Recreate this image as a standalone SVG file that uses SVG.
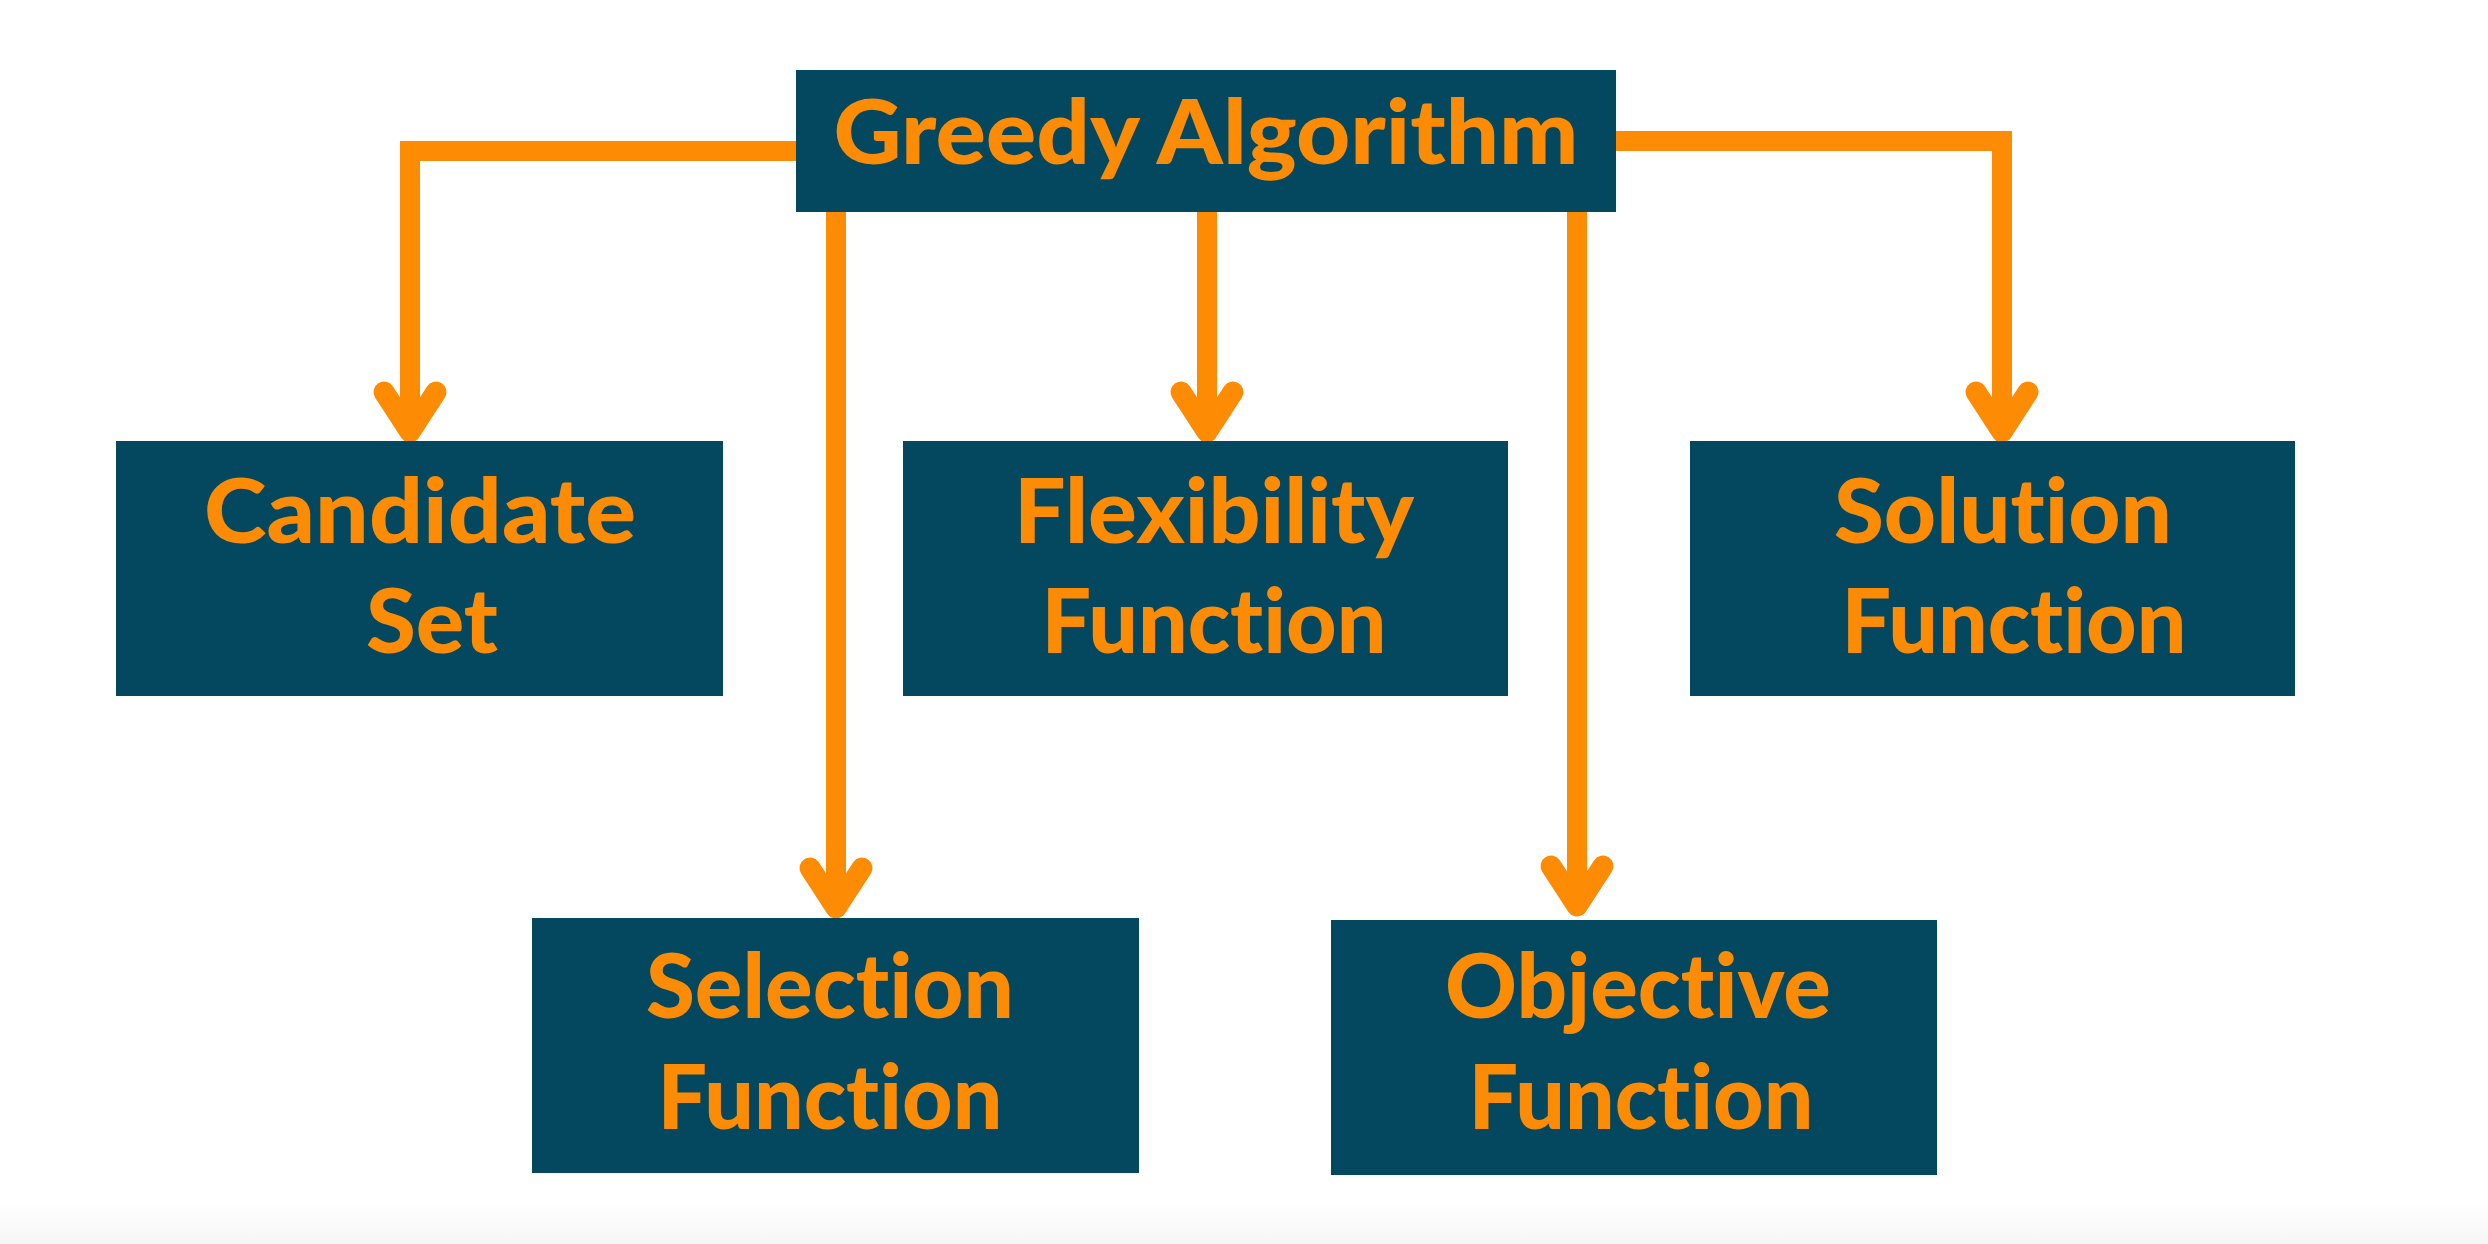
<svg xmlns="http://www.w3.org/2000/svg" width="2488" height="1244" viewBox="0 0 2488 1244">
<defs>
<linearGradient id="fade" x1="0" y1="0" x2="0" y2="1">
<stop offset="0" stop-color="#ffffff"/>
<stop offset="1" stop-color="#f6f6f6"/>
</linearGradient>
</defs>
<style>
.box{fill:#03485F;}
.lbl{fill:#FD8C04;font-family:Lato,"Liberation Sans",sans-serif;font-weight:900;font-size:90px;text-anchor:middle;font-variant-ligatures:none;font-feature-settings:"liga" 0,"clig" 0;}
.ln{fill:none;stroke:#FD8C04;stroke-width:20;stroke-linejoin:miter;stroke-linecap:butt;}
.hd{fill:none;stroke:#FD8C04;stroke-width:21;stroke-linejoin:round;stroke-linecap:round;}
</style>
<rect x="0" y="0" width="2488" height="1244" fill="#ffffff"/>
<rect x="0" y="1200" width="2488" height="44" fill="url(#fade)"/>
<g id="connectors">
<polyline class="ln" points="800,151 410,151 410,430"/>
<polyline class="hd" points="384,392 410,432 436,392"/>
<polyline class="ln" points="1610,141 2002,141 2002,430"/>
<polyline class="hd" points="1976,392 2002,432 2028,392"/>
<line class="ln" x1="1207" y1="211" x2="1207" y2="430"/>
<polyline class="hd" points="1181,392 1207,432 1233,392"/>
<line class="ln" x1="836" y1="211" x2="836" y2="906"/>
<polyline class="hd" points="810,868 836,908 862,868"/>
<line class="ln" x1="1577" y1="211" x2="1577" y2="906"/>
<polyline class="hd" points="1551,866 1577,906 1603,866"/>
</g>
<g id="greedy">
<rect class="box" x="796" y="70" width="820" height="142"/>
<text class="lbl" x="1206" y="164" font-size="92" textLength="745" lengthAdjust="spacingAndGlyphs">Greedy Algorithm</text>
</g>
<g id="candidate">
<rect class="box" x="116" y="441" width="607" height="255"/>
<text class="lbl" x="420" y="543" textLength="432" lengthAdjust="spacingAndGlyphs">Candidate</text>
<text class="lbl" x="432" y="653" textLength="132" lengthAdjust="spacingAndGlyphs">Set</text>
</g>
<g id="flexibility">
<rect class="box" x="903" y="441" width="605" height="255"/>
<text class="lbl" x="1214" y="543" textLength="400" lengthAdjust="spacingAndGlyphs">Flexibility</text>
<text class="lbl" x="1214" y="653" textLength="345" lengthAdjust="spacingAndGlyphs">Function</text>
</g>
<g id="solution">
<rect class="box" x="1690" y="441" width="605" height="255"/>
<text class="lbl" x="2003" y="543" textLength="338" lengthAdjust="spacingAndGlyphs">Solution</text>
<text class="lbl" x="2014" y="653" textLength="345" lengthAdjust="spacingAndGlyphs">Function</text>
</g>
<g id="selection">
<rect class="box" x="532" y="918" width="607" height="255"/>
<text class="lbl" x="830" y="1018" textLength="368" lengthAdjust="spacingAndGlyphs">Selection</text>
<text class="lbl" x="830" y="1129" textLength="345" lengthAdjust="spacingAndGlyphs">Function</text>
</g>
<g id="objective">
<rect class="box" x="1331" y="920" width="606" height="255"/>
<text class="lbl" x="1638" y="1018" textLength="386" lengthAdjust="spacingAndGlyphs">Objective</text>
<text class="lbl" x="1641" y="1129" textLength="345" lengthAdjust="spacingAndGlyphs">Function</text>
</g>
</svg>
